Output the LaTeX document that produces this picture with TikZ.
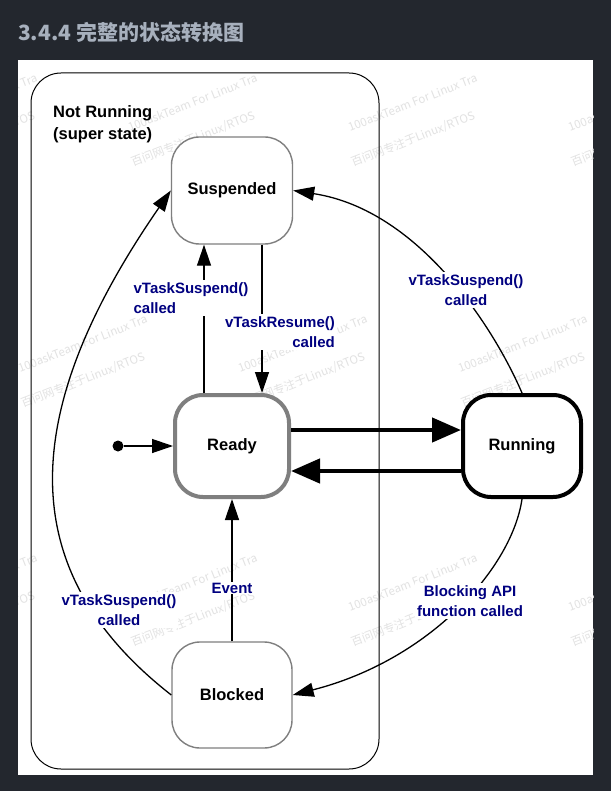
\documentclass[tikz,border=0pt]{standalone}
\usepackage{fontspec}
\setmainfont{Liberation Sans}
\newfontfamily\cjk{Noto Sans CJK SC}
\usetikzlibrary{arrows.meta}
\definecolor{bgdark}{HTML}{23272E}
\definecolor{hdr}{HTML}{A7B0BD}
\definecolor{lblblue}{HTML}{000080}
\definecolor{wmgray}{HTML}{E2E2E2}
\definecolor{boxgray}{HTML}{7F7F7F}
\begin{document}
\begin{tikzpicture}[x=1pt,y=-1pt,
  state/.style={rectangle, rounded corners=28pt, fill=white, inner sep=0pt,
    font=\fontsize{16.5}{20}\selectfont\bfseries},
  thinstate/.style={state, draw=boxgray, line width=1.4pt},
  readystate/.style={state, draw=boxgray, line width=4pt},
  runstate/.style={state, draw=black, line width=4pt},
  arr/.style={line width=1.3pt, -{Triangle[length=21pt,width=14pt]}},
  thickarr/.style={line width=4.5pt, -{Triangle[length=29pt,width=24pt]}},
  lbl/.style={fill=white, inner sep=2pt, text=lblblue,
    font=\fontsize{15}{20.5}\selectfont\bfseries},
  wmtext/.style={anchor=base west, inner sep=0pt, rotate=21.5, text=wmgray,
    font=\cjk\fontsize{11.5}{14}\selectfont}
]
\useasboundingbox (0,0) rectangle (611,791);
\fill[bgdark] (0,0) rectangle (611,791);
\node[anchor=base west, inner sep=0pt, text=hdr,
  font=\cjk\bfseries\fontsize{21}{24}\selectfont] (title) at (18,41) {3.4.4 完整的状态转换图};
\fill[white] (18,60) rectangle (593,775);

% watermarks
\begin{scope}
\clip (18,60) rectangle (593,775);
\foreach \wx/\wy [count=\i] in {-90/132,130/132,350/132,570/132,20/373,240/373,460/373,-90/612,130/612,350/612,570/612}{
  \node[wmtext] (wma\i) at (\wx,\wy) {100askTeam For Linux Tra};
  \node[wmtext] (wmb\i) at (\wx+3,\wy+35) {百问网专注于Linux/RTOS};
}
\end{scope}

% super state
\draw[line width=1pt, rounded corners=30pt] (31,73) rectangle (379,769);
\node[anchor=north west, inner sep=0pt, align=left,
  font=\fontsize{16.5}{22}\selectfont\bfseries] (super) at (53,105.2) {Not Running\\(super state)};

% states
\node[thinstate, minimum width=121pt, minimum height=107pt] (suspended) at (232,190.5) {Suspended};
\node[readystate, minimum width=114pt, minimum height=102pt] (ready) at (232,446) {Ready};
\node[runstate, minimum width=118pt, minimum height=102pt] (running) at (522,446) {Running};
\node[thinstate, minimum width=120pt, minimum height=106pt] (blocked) at (232,695) {Blocked};
\node[circle, fill=black, minimum size=11pt, inner sep=0pt] (init) at (118,446) {};

% transitions
\draw[arr] (init) -- (ready.west);
\draw[arr] ([xshift=-28pt]ready.north) -- ([xshift=-28pt]suspended.south);
\draw[arr] ([xshift=30pt]suspended.south) -- ([xshift=30pt]ready.north);
\draw[arr] (blocked.north) -- (ready.south);
\draw[thickarr] ([yshift=16pt]ready.east) -- ([yshift=16pt]running.west);
\draw[thickarr] ([yshift=-25pt]running.west) -- ([yshift=-25pt]ready.east);
\draw[arr] (running.north) .. controls (495,330) and (420,210) .. (suspended.east);
\draw[arr] (running.south) .. controls (512,568) and (430,660) .. (blocked.east);
\draw[arr] (blocked.west) .. controls (15,573) and (15,416) .. (suspended.west);

% labels
\node[lbl, align=right] (lresume) at (280,332) {vTaskResume()\\called};
\node[lbl, align=left] (lsuspa) at (191,298) {vTaskSuspend()\\called};
\node[lbl, align=center] (lsuspb) at (466,290) {vTaskSuspend()\\called};
\node[lbl, align=center] (lblock) at (470,601) {Blocking API\\function called};
\node[lbl, align=center] (lsuspc) at (119,610) {vTaskSuspend()\\called};
\node[lbl, inner sep=1pt] (levent) at (232,588) {Event};
\end{tikzpicture}
\end{document}
